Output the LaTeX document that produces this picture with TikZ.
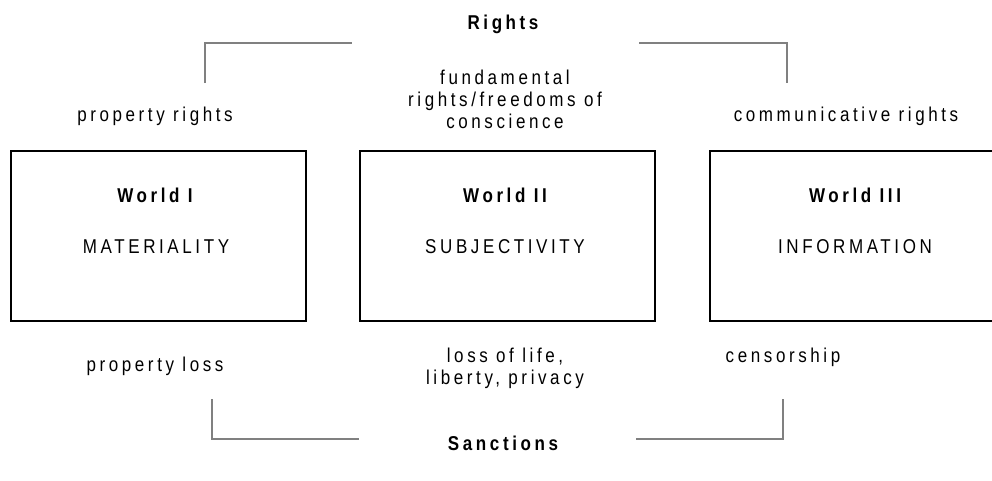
\documentclass[tikz,border=0pt]{standalone}
\usepackage{fontspec}
\setmainfont{Liberation Sans}[FakeStretch=0.85,LetterSpace=18]
\usetikzlibrary{positioning}

\tikzset{
  world/.style={draw=black,line width=1pt,minimum width=295*0.75pt,minimum height=170*0.75pt,inner sep=0pt},
  txt/.style={inner sep=0.75pt,align=center,font=\fontsize{15}{16.5}\selectfont},
  head/.style={txt,font=\fontsize{15}{16.5}\selectfont\bfseries},
  bracket/.style={draw={rgb,255:red,128;green,128;blue,128},line width=1.5pt}
}

\begin{document}
\begin{tikzpicture}[x=0.75pt,y=0.75pt,yscale=-1,xscale=1]
\clip (0,0) rectangle (992,480);
% the three worlds
\node [world] (w1) at (158.5,236) {};
\node [world] (w2) at (507.5,236) {};
\node [world] (w3) at (857.5,236) {};
\node [head] (h1) at (155,195) {World I};
\node [head] (h2) at (505,195) {World II};
\node [head] (h3) at (855,195) {World III};
\node [txt] (m1) at (156,247) {MATERIALITY};
\node [txt] (m2) at (505,247) {SUBJECTIVITY};
\node [txt] (m3) at (855,247) {INFORMATION};
% rights
\node [head] (rights) at (503,24) {Rights};
\node [txt] (pr) at (155,116) {property rights};
\node [txt] (fr) at (505,99) {fundamental\\rights/freedoms of\\conscience};
\node [txt] (cr) at (846,116) {communicative rights};
\coordinate (rt1) at (205,83);
\coordinate (rt2) at (205,43);
\coordinate (rt3) at (352,43);
\coordinate (rt4) at (639,43);
\coordinate (rt5) at (787,43);
\coordinate (rt6) at (787,83);
\draw [bracket] (rt1) -- (rt2) -- (rt3);
\draw [bracket] (rt4) -- (rt5) -- (rt6);
% sanctions
\node [head] (sanct) at (503,443) {Sanctions};
\node [txt] (pl) at (155,366) {property loss};
\node [txt] (ll) at (505,368) {loss of life,\\liberty, privacy};
\node [txt] (cs) at (783,357) {censorship};
\coordinate (sc1) at (212,399);
\coordinate (sc2) at (212,439);
\coordinate (sc3) at (359,439);
\coordinate (sc4) at (636,439);
\coordinate (sc5) at (783,439);
\coordinate (sc6) at (783,399);
\draw [bracket] (sc1) -- (sc2) -- (sc3);
\draw [bracket] (sc4) -- (sc5) -- (sc6);
\end{tikzpicture}
\end{document}
